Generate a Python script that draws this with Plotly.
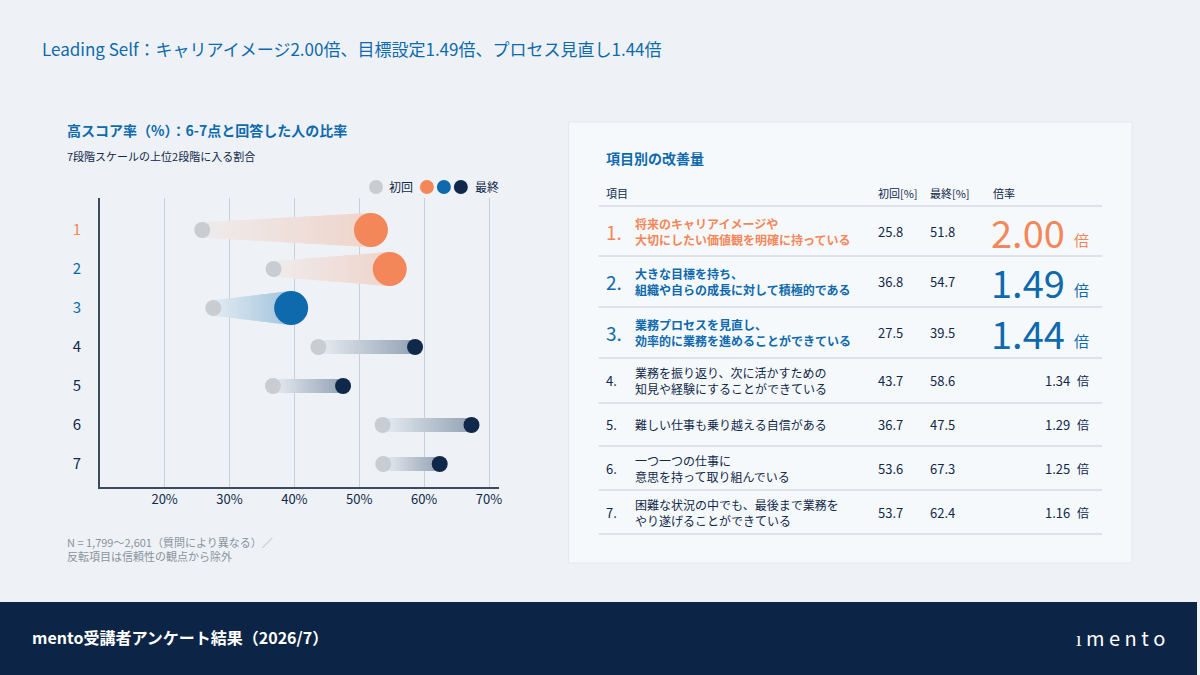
import plotly.graph_objects as go

items = ["1", "2", "3", "4", "5", "6", "7"]
initial = [25.8, 36.8, 27.5, 43.7, 36.7, 53.6, 53.7]
final = [51.8, 54.7, 39.5, 58.6, 47.5, 67.3, 62.4]
ratios = ["2.00", "1.49", "1.44", "1.34", "1.29", "1.25", "1.16"]
labels = [
    "将来のキャリアイメージや<br>大切にしたい価値観を明確に持っている",
    "大きな目標を持ち、<br>組織や自らの成長に対して積極的である",
    "業務プロセスを見直し、<br>効率的に業務を進めることができている",
    "業務を振り返り、次に活かすための<br>知見や経験にすることができている",
    "難しい仕事も乗り越える自信がある",
    "一つ一つの仕事に<br>意思を持って取り組んでいる",
    "困難な状況の中でも、最後まで業務を<br>やり遂げることができている",
]
xticks = [20, 30, 40, 50, 60, 70]

W, H = 1200, 675
F = "Noto Sans CJK JP"
ORANGE, BLUE, NAVY, GRAY = "#f4875a", "#0e6aad", "#10284a", "#c9ccd0"
BG = (238, 242, 246)
row_col = [ORANGE, ORANGE, BLUE, NAVY, NAVY, NAVY, NAVY]
tick_col = [ORANGE, BLUE, BLUE, NAVY, NAVY, NAVY, NAVY]

def px(x): return x / W
def py(y): return 1 - y / H

def blend(rgb, al):
    return "rgb(%d,%d,%d)" % tuple(round(BG[j] * (1 - al) + rgb[j] * al) for j in range(3))

fig = go.Figure()

N = 30
for i in range(7):
    yv = i + 1
    a, b = initial[i], final[i]
    big = i < 3
    h0 = 0.2 if big else 0.18
    h1 = 0.44 if big else 0.18
    rgb = {ORANGE: (244, 135, 90), BLUE: (14, 106, 173), NAVY: (70, 95, 125)}[row_col[i]]
    for k in range(N):
        t0, t1 = k / N, (k + 1) / N
        xa, xb = a + (b - a) * t0, a + (b - a) * min(1, t1 + 0.6 / N)
        ha, hb = h0 + (h1 - h0) * t0, h0 + (h1 - h0) * t1
        tm = (t0 + t1) / 2
        if i == 2:
            al = 0.05 + 0.3 * tm
        elif big:
            al = 0.06 + 0.22 * tm
        else:
            al = 0.04 + 0.5 * tm
        fig.add_trace(go.Scatter(
            x=[xa, xb, xb, xa, xa], y=[yv - ha, yv - hb, yv + hb, yv + ha, yv - ha],
            mode="lines", fill="toself", line=dict(width=0),
            fillcolor=blend(rgb, al), hoverinfo="skip", showlegend=False))

fig.add_trace(go.Scatter(x=initial, y=[i + 1 for i in range(7)], mode="markers",
                         marker=dict(size=16, color=GRAY, opacity=1, line=dict(width=0)),
                         showlegend=False))
fig.add_trace(go.Scatter(x=final, y=[i + 1 for i in range(7)], mode="markers",
                         marker=dict(size=[34, 34, 34, 16, 16, 16, 16], color=row_col, opacity=1,
                                     line=dict(width=0)),
                         showlegend=False))

fig.update_xaxes(range=[10, 71.5], domain=[px(100), px(500)], tickvals=xticks,
                 ticktext=[f"{v}%" for v in xticks], showgrid=True, gridcolor="#c8cfd8",
                 zeroline=False, showline=True, linecolor="#3c4a5e", linewidth=1.5,
                 tickfont=dict(family=F, size=13, color=NAVY), ticks="", fixedrange=True)
fig.update_yaxes(range=[7.59, 0.18], domain=[py(487), py(198)], tickvals=[1, 2, 3, 4, 5, 6, 7],
                 ticktext=[f"<span style='color:{c}'>{t}</span>" for t, c in zip(items, tick_col)],
                 showgrid=False, zeroline=False, showline=True, linecolor="#3c4a5e", linewidth=1.5,
                 tickfont=dict(family=F, size=15), ticks="", ticklabelstandoff=14, fixedrange=True)

shapes = []
ann = []
def A(x, y, text, size=12, color=NAVY, xa="left", ya="middle", **kw):
    ann.append(dict(x=px(x), y=py(y), xref="paper", yref="paper", text=text, showarrow=False,
                    xanchor=xa, yanchor=ya, align="left",
                    font=dict(family=F, size=size, color=color), **kw))

shapes.append(dict(type="rect", xref="paper", yref="paper", x0=px(570), x1=px(1135), y0=py(563), y1=py(122),
                   fillcolor="rgba(246,249,251,0.95)", line=dict(color="#e3e8ee", width=1), layer="below"))
shapes.append(dict(type="rect", xref="paper", yref="paper", x0=0, x1=1, y0=0, y1=py(602),
                   fillcolor="#0c2546", line=dict(width=0)))

A(40, 48, "Leading Self：キャリアイメージ2.00倍、目標設定1.49倍、プロセス見直し1.44倍", 17, BLUE)
A(65, 130, "<b>高スコア率（%）：6-7点と回答した人の比率</b>", 14, BLUE)
A(65, 156, "7段階スケールの上位2段階に入る割合", 11, NAVY)
A(65, 549, "N = 1,799〜2,601（質問により異なる）／<br>反転項目は信頼性の観点から除外", 11, "#8a939e")
A(30, 637, "<b>mento受講者アンケート結果（2026/7）</b>", 16, "white")
A(1170, 637, "ı m e n t o", 20, "white", xa="right")

for xx, c in [(377, GRAY), (428, ORANGE), (445, BLUE), (462, NAVY)]:
    shapes.append(dict(type="circle", xref="paper", yref="paper", x0=px(xx - 7), x1=px(xx + 7),
                       y0=py(187 + 7), y1=py(187 - 7), fillcolor=c, line=dict(width=0)))
A(388, 187, "初回", 12, NAVY)
A(474, 187, "最終", 12, NAVY)

A(606, 158, "<b>項目別の改善量</b>", 14, BLUE)
A(606, 193, "項目", 11, NAVY)
A(878, 193, "初回[%]", 11, NAVY)
A(930, 193, "最終[%]", 11, NAVY)
A(993, 193, "倍率", 11, NAVY)
lines_y = [206, 256, 307, 358, 403, 446, 490, 534]
for ly in lines_y:
    shapes.append(dict(type="line", xref="paper", yref="paper", x0=px(600), x1=px(1105),
                       y0=py(ly), y1=py(ly), line=dict(color="#c5ccd4", width=1)))
for i in range(7):
    cy = (lines_y[i] + lines_y[i + 1]) / 2
    big = i < 3
    tc = [ORANGE, BLUE, BLUE][i] if big else NAVY
    A(606, cy, f"{i + 1}.", 19 if big else 13, tc)
    A(635, cy, f"<b>{labels[i]}</b>" if big else labels[i], 12, tc)
    A(878, cy, f"{initial[i]:.1f}", 13, NAVY)
    A(930, cy, f"{final[i]:.1f}", 13, NAVY)
    if big:
        A(1070, cy, ratios[i], 38, tc, xa="right")
        A(1075, cy + 8, "倍", 15, tc)
    else:
        A(1075, cy, ratios[i], 13, NAVY, xa="right")
        A(1078, cy, "倍", 12, NAVY)

fig.update_layout(width=W, height=H, margin=dict(l=0, r=0, t=0, b=0),
                  paper_bgcolor="#eef2f6", plot_bgcolor="rgba(0,0,0,0)",
                  shapes=shapes, annotations=ann, showlegend=False)
fig.write_html("out.html", config={"displayModeBar": False})
with open("out.html", encoding="utf-8") as f:
    html = f.read()
html = html.replace("<head>", "<head><style>html,body{margin:0;padding:0;overflow:hidden}</style>", 1)
with open("out.html", "w", encoding="utf-8") as f:
    f.write(html)
